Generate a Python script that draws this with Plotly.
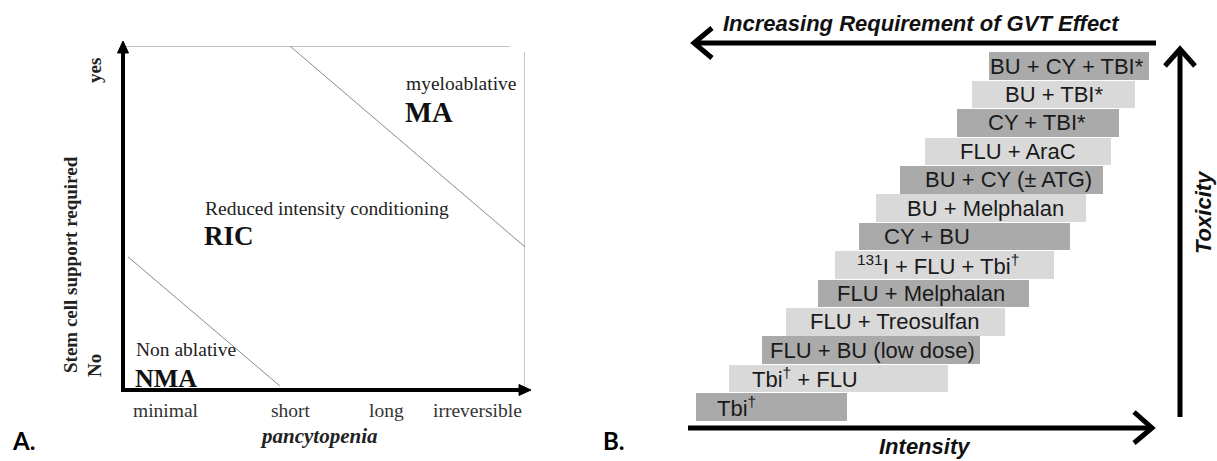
import plotly.graph_objects as go

W, H = 1217, 461

# ---------------- Panel A data ----------------
pancyto_labels = ["minimal", "short", "long", "irreversible"]
pancyto_pos = [0.43, 1.67, 2.62, 3.53]          # position on pancytopenia axis (0-4)
support_labels = ["No", "yes"]
ma_boundary_x = [1.66, 4.0]
ma_boundary_y = [1.0, 0.416]
nma_boundary_x = [0.05, 1.56]
nma_boundary_y = [0.387, 0.012]

# ---------------- Panel B data ----------------
regimens = [
    "Tbi<sup>†</sup>",
    "Tbi<sup>†</sup> + FLU",
    "FLU + BU (low dose)",
    "FLU + Treosulfan",
    "FLU + Melphalan",
    "<sup>131</sup>I + FLU + Tbi<sup>†</sup>",
    "CY + BU",
    "BU + Melphalan",
    "BU + CY (± ATG)",
    "FLU + AraC",
    "CY + TBI*",
    "BU + TBI*",
    "BU + CY + TBI*",
]
intensity_start = [1.3, 8.3, 15.3, 20.4, 27.2, 30.9, 36.0, 39.6, 44.7, 50.0, 56.8, 60.0, 63.6]
intensity_end = [33.4, 54.9, 61.7, 67.0, 72.1, 77.4, 80.9, 84.3, 87.9, 89.6, 91.3, 94.7, 97.7]
label_center = [9.8, 24.4, 38.9, 43.6, 49.1, 52.8, 50.4, 62.8, 67.7, 69.7, 73.9, 77.4, 80.3]

DARK, LIGHT = "#aaaaaa", "#d9d9d9"


def X(p):
    return p / W


def Y(p):
    return 1 - p / H


fig = go.Figure()

# Panel A boundaries
for bx, by in [(ma_boundary_x, ma_boundary_y), (nma_boundary_x, nma_boundary_y)]:
    fig.add_trace(go.Scatter(x=bx, y=by, mode="lines", line=dict(color="#8a8a8a", width=1),
                             xaxis="x", yaxis="y", showlegend=False, hoverinfo="skip"))

# Panel B bars
idx = list(range(len(regimens)))
fig.add_trace(go.Bar(
    y=idx, x=[e - s for s, e in zip(intensity_start, intensity_end)], base=intensity_start,
    orientation="h", width=0.97,
    marker=dict(color=[DARK if i % 2 == 0 else LIGHT for i in idx], line=dict(width=0)),
    xaxis="x2", yaxis="y2", showlegend=False, hoverinfo="skip",
))

shapes = []
annotations = []

# Panel A frame lines (thin gray)
shapes.append(dict(type="line", xref="x", yref="y", x0=0.02, x1=3.85, y0=1.0, y1=1.0,
                   line=dict(color="#8a8a8a", width=1)))
shapes.append(dict(type="line", xref="x", yref="y", x0=4.0, x1=4.0, y0=0.983, y1=-0.02,
                   line=dict(color="#8a8a8a", width=1)))

# Panel A axes with filled arrowheads
shapes.append(dict(type="line", xref="paper", yref="paper", x0=X(123), x1=X(123), y0=Y(392), y1=Y(50),
                   line=dict(color="black", width=4)))
shapes.append(dict(type="line", xref="paper", yref="paper", x0=X(121), x1=X(521), y0=Y(390), y1=Y(390),
                   line=dict(color="black", width=4)))


def path(pts, close=False):
    s = "M " + " L ".join(f"{X(a):.5f},{Y(b):.5f}" for a, b in pts)
    return s + (" Z" if close else "")


shapes.append(dict(type="path", xref="paper", yref="paper",
                   path=path([(123, 41), (117.5, 53), (128.5, 53)], True),
                   fillcolor="black", line=dict(color="black", width=1)))
shapes.append(dict(type="path", xref="paper", yref="paper",
                   path=path([(531, 390), (519, 384.5), (519, 395.5)], True),
                   fillcolor="black", line=dict(color="black", width=1)))

# Panel B arrows
thick = dict(color="black", width=5)
shapes.append(dict(type="line", xref="paper", yref="paper", x0=X(1156), x1=X(695), y0=Y(43), y1=Y(43), line=thick))
shapes.append(dict(type="path", xref="paper", yref="paper", path=path([(712, 28), (694, 43), (712, 58)]), line=thick))
shapes.append(dict(type="line", xref="paper", yref="paper", x0=X(1180), x1=X(1180), y0=Y(417), y1=Y(50), line=thick))
shapes.append(dict(type="path", xref="paper", yref="paper", path=path([(1165, 66), (1180, 49), (1195, 66)]), line=thick))
shapes.append(dict(type="line", xref="paper", yref="paper", x0=X(688), x1=X(1151), y0=Y(428), y1=Y(428), line=thick))
shapes.append(dict(type="path", xref="paper", yref="paper", path=path([(1134, 412), (1152, 428), (1134, 443)]), line=thick))

SERIF = "Liberation Serif, Times New Roman, serif"
SANS = "Liberation Sans, Arial, sans-serif"
TXT = "#222222"


def ann(text, x, y, size, family, xanchor="center", angle=0, color=TXT):
    annotations.append(dict(text=text, x=X(x), y=Y(y), xref="paper", yref="paper", showarrow=False,
                            xanchor=xanchor, yanchor="middle", textangle=angle,
                            font=dict(size=size, family=family, color=color)))


# Panel A texts
ann("myeloablative", 404, 84, 19.5, SERIF, "left")
ann("<b>MA</b>", 403, 113, 28.5, SERIF, "left", color="#111")
ann("Reduced intensity conditioning", 203, 209, 19.5, SERIF, "left")
ann("<b>RIC</b>", 202, 236, 27, SERIF, "left", color="#111")
ann("Non ablative", 134, 349, 19.5, SERIF, "left")
ann("<b>NMA</b>", 133, 378, 26, SERIF, "left", color="#111")
ann("<b>Stem cell support required</b>", 70, 265, 19, SERIF, angle=-90)
ann("<b>" + support_labels[1] + "</b>", 94, 71, 19, SERIF, angle=-90)
ann("<b>" + support_labels[0] + "</b>", 94, 366, 19, SERIF, angle=-90)
ann("<b><i>pancytopenia</i></b>", 319, 436, 21, SERIF)
for lab, pos in zip(pancyto_labels, pancyto_pos):
    annotations.append(dict(text=lab, x=pos, y=Y(410), xref="x", yref="paper", showarrow=False,
                            xanchor="center", yanchor="middle",
                            font=dict(size=19.5, family=SERIF, color="#333")))
ann("<b>A.</b>", 23, 440, 24, "Lato, Open Sans, sans-serif", color="black")
ann("<b>B.</b>", 614, 440, 24, "Lato, Open Sans, sans-serif", color="black")

# Panel B texts
ann("<b><i>Increasing Requirement of GVT Effect</i></b>", 922, 23, 22, SANS, color="#111")
ann("<b><i>Intensity</i></b>", 925, 446, 22, SANS, color="#111")
ann("<b><i>Toxicity</i></b>", 1203, 212, 22, SANS, angle=-90, color="#111")
for i, (lab, c) in enumerate(zip(regimens, label_center)):
    annotations.append(dict(text=lab, x=c, y=i, xref="x2", yref="y2", showarrow=False,
                            xanchor="center", yanchor="middle",
                            font=dict(size=22, family=SANS, color="#1a1a1a")))

ax_common = dict(visible=False, showgrid=False, zeroline=False, fixedrange=True)
fig.update_layout(
    width=W, height=H, margin=dict(l=0, r=0, t=0, b=0),
    paper_bgcolor="white", plot_bgcolor="rgba(0,0,0,0)",
    xaxis=dict(domain=[X(123), X(525)], range=[0, 4], **ax_common),
    yaxis=dict(domain=[Y(390), Y(46)], range=[0, 1], **ax_common),
    xaxis2=dict(domain=[X(690), X(1160)], range=[0, 100], anchor="y2", **ax_common),
    yaxis2=dict(domain=[Y(421), Y(51.8)], range=[-0.5, 12.5], anchor="x2", **ax_common),
    shapes=shapes, annotations=annotations, bargap=0,
)

fig.write_html("out.html", config={"displayModeBar": False},
               post_script="document.body.style.margin='0';document.body.style.overflow='hidden';")
